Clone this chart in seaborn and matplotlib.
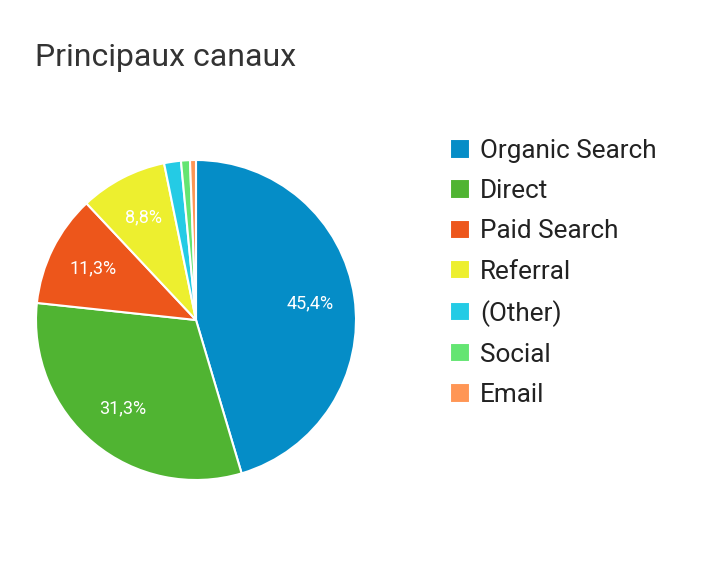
import matplotlib
matplotlib.use("Agg")
import matplotlib.pyplot as plt
import seaborn as sns

channels = ["Organic Search", "Direct", "Paid Search", "Referral", "(Other)", "Social", "Email"]
shares = [45.4, 31.3, 11.3, 8.8, 1.7, 0.9, 0.6]
colors = ["#058DC7", "#50B432", "#ED561B", "#EDEF2F", "#24CBE5", "#64E572", "#FF9655"]
title = "Principaux canaux"

sns.set_theme(style="white")
plt.rcParams['font.family'] = ['Roboto', 'DejaVu Sans']

fig = plt.figure(figsize=(7.22, 5.72), dpi=100)
fig.patch.set_facecolor("white")
ax = fig.add_axes([36/722, 92/572, 320/722, 320/572])
pal = sns.color_palette(colors)

def fmt(p):
    return (f"{p:.1f}".replace(".", ",") + "%") if p >= 5 else ""

wedges, texts, autotexts = ax.pie(
    shares, colors=pal, startangle=90, counterclock=False, radius=1,
    autopct=fmt, pctdistance=0.72,
    wedgeprops=dict(edgecolor="white", linewidth=1.5),
    textprops=dict(color="white", fontsize=13),
)
ax.set_xlim(-1, 1)
ax.set_ylim(-1, 1)
ax.set_aspect("equal")
ax.axis("off")

fig.text(35/722, 1 - 58/572, title, fontsize=23, color="#333333", va="center", ha="left")

leg = fig.legend(wedges, channels, loc="upper left", bbox_to_anchor=(450/722, 1 - 139/572),
                 frameon=False, fontsize=18.8, handlelength=0.76, handleheight=0.76,
                 handletextpad=0.38, labelspacing=0.62, borderaxespad=0, borderpad=0)
for t in leg.get_texts():
    t.set_color("#222222")

fig.savefig("out.png", dpi=100, facecolor="white")
